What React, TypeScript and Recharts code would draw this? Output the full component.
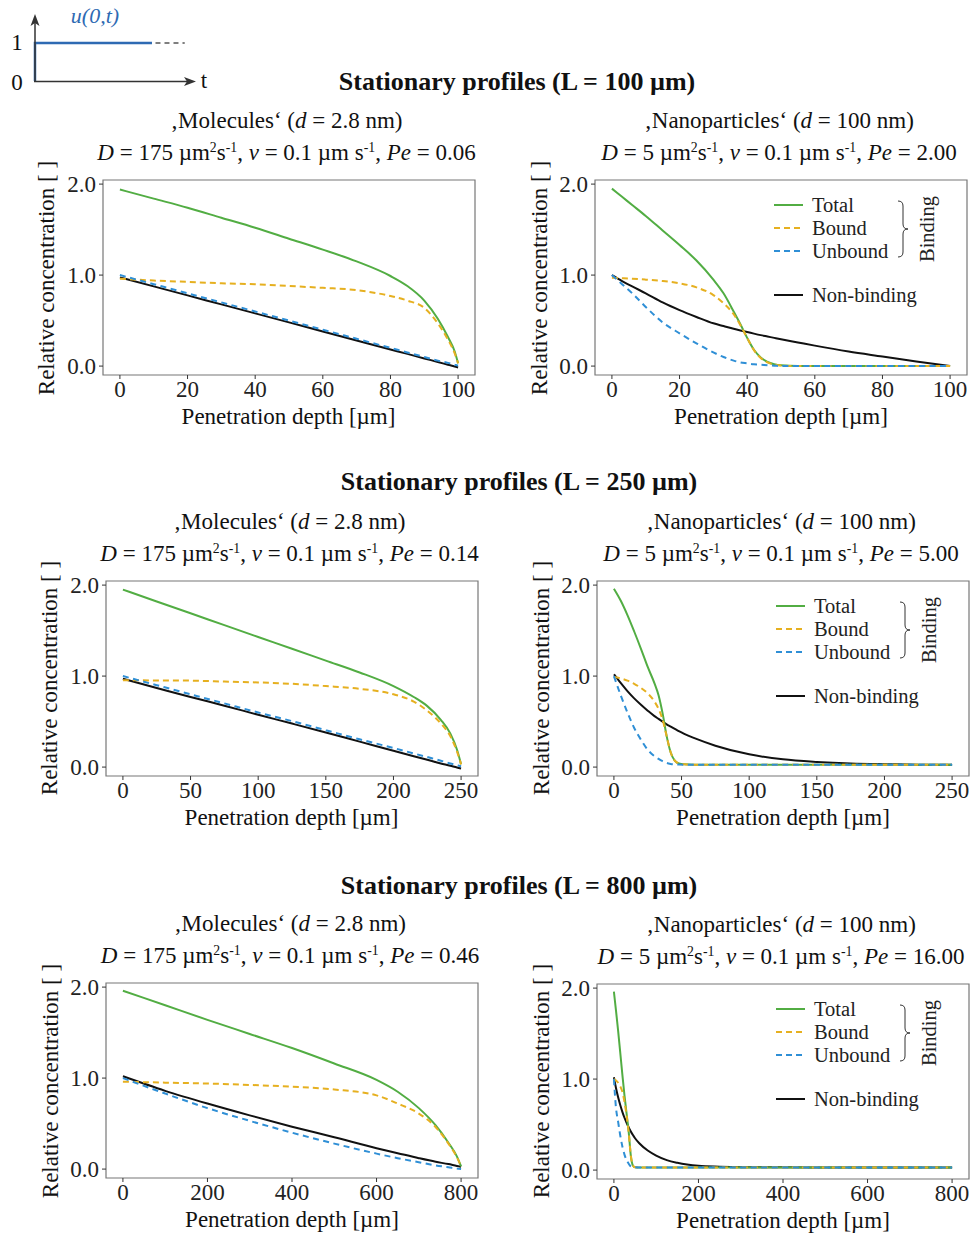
import { LineChart, Line, XAxis, YAxis, ReferenceArea, Legend } from 'recharts';

const FONT = '"Liberation Serif", "DejaVu Serif", serif';
const GREEN = '#52ad43';
const YELLOW = '#e6b020';
const BLUE = '#2f8fd6';
const BLACK = '#111111';
const STEP_BLUE = '#2e6ab3';

// L = 100 µm, molecules
const x100 = [0, 10, 20, 30, 40, 50, 60, 70, 80, 85, 90, 94, 97, 99, 100];
const total100Mol = [1.94, 1.84, 1.74, 1.63, 1.52, 1.4, 1.28, 1.15, 0.99, 0.88, 0.72, 0.52, 0.32, 0.16, 0.03];
const bound100Mol = [0.96, 0.94, 0.925, 0.91, 0.9, 0.88, 0.86, 0.835, 0.77, 0.72, 0.64, 0.47, 0.29, 0.14, 0.03];
const unbound100Mol = [1.0, 0.9, 0.8, 0.7, 0.6, 0.5, 0.4, 0.3, 0.2, 0.15, 0.1, 0.06, 0.035, 0.015, 0.005];
const nonbind100Mol = [0.975, 0.876, 0.777, 0.678, 0.579, 0.48, 0.381, 0.282, 0.183, 0.134, 0.084, 0.045, 0.015, -0.005, -0.015];

// L = 100 µm, nanoparticles
const x100Nano = [0, 3, 6, 10, 15, 20, 25, 30, 33, 36, 38, 40, 42, 44, 46, 48, 50, 55, 60, 70, 80, 90, 100];
const total100Nano = [1.95, 1.86, 1.77, 1.65, 1.49, 1.33, 1.16, 0.95, 0.8, 0.6, 0.46, 0.31, 0.18, 0.095, 0.045, 0.02, 0.008, 0, 0, 0, 0, 0, 0];
const bound100Nano = [0.97, 0.965, 0.96, 0.95, 0.935, 0.91, 0.865, 0.78, 0.69, 0.57, 0.45, 0.31, 0.175, 0.09, 0.04, 0.018, 0.007, 0, 0, 0, 0, 0, 0];
const unbound100Nano = [1.0, 0.9, 0.8, 0.65, 0.48, 0.36, 0.25, 0.15, 0.1, 0.06, 0.04, 0.03, 0.02, 0.015, 0.01, 0.005, 0, 0, 0, 0, 0, 0, 0];
const nonbind100Nano = [1.0, 0.935, 0.875, 0.8, 0.7, 0.615, 0.54, 0.47, 0.44, 0.41, 0.392, 0.375, 0.357, 0.34, 0.325, 0.31, 0.295, 0.26, 0.225, 0.16, 0.105, 0.05, 0.0];

// L = 250 µm, molecules
const x250 = [0, 25, 50, 75, 100, 125, 150, 175, 200, 215, 225, 235, 242, 247, 250];
const total250Mol = [1.95, 1.82, 1.69, 1.56, 1.43, 1.3, 1.17, 1.04, 0.89, 0.77, 0.67, 0.52, 0.37, 0.19, 0.03];
const bound250Mol = [0.955, 0.952, 0.95, 0.94, 0.93, 0.915, 0.89, 0.86, 0.8, 0.72, 0.62, 0.48, 0.34, 0.17, 0.03];
const unbound250Mol = [1.0, 0.9, 0.8, 0.7, 0.6, 0.505, 0.405, 0.305, 0.21, 0.15, 0.11, 0.07, 0.04, 0.02, 0.01];
const nonbind250Mol = [0.97, 0.87, 0.77, 0.675, 0.575, 0.478, 0.38, 0.28, 0.18, 0.12, 0.08, 0.04, 0.015, -0.005, -0.015];

// L = 250 µm, nanoparticles
const x250Nano = [0, 5, 10, 15, 20, 25, 30, 33, 36, 39, 42, 45, 48, 52, 60, 75, 100, 125, 150, 175, 200, 225, 250];
const total250Nano = [1.96, 1.83, 1.67, 1.49, 1.3, 1.1, 0.92, 0.79, 0.59, 0.34, 0.16, 0.07, 0.04, 0.03, 0.025, 0.025, 0.025, 0.025, 0.025, 0.025, 0.025, 0.025, 0.025];
const bound250Nano = [0.99, 0.975, 0.95, 0.915, 0.87, 0.81, 0.72, 0.64, 0.52, 0.34, 0.16, 0.07, 0.04, 0.03, 0.025, 0.025, 0.025, 0.025, 0.025, 0.025, 0.025, 0.025, 0.025];
const unbound250Nano = [1.0, 0.79, 0.6, 0.43, 0.3, 0.19, 0.12, 0.09, 0.065, 0.045, 0.035, 0.03, 0.027, 0.025, 0.025, 0.025, 0.025, 0.025, 0.025, 0.025, 0.025, 0.025, 0.025];
const nonbind250Nano = [1.02, 0.925, 0.835, 0.755, 0.685, 0.62, 0.56, 0.53, 0.5, 0.47, 0.445, 0.42, 0.395, 0.365, 0.315, 0.235, 0.14, 0.085, 0.057, 0.04, 0.032, 0.027, 0.025];

// L = 800 µm, molecules
const x800 = [0, 100, 200, 300, 400, 500, 600, 650, 700, 740, 770, 790, 800];
const total800Mol = [1.96, 1.8, 1.64, 1.485, 1.33, 1.16, 0.98, 0.85, 0.67, 0.48, 0.29, 0.14, 0.03];
const bound800Mol = [0.96, 0.95, 0.94, 0.925, 0.905, 0.875, 0.81, 0.72, 0.61, 0.46, 0.28, 0.13, 0.03];
const unbound800Mol = [1.0, 0.83, 0.67, 0.53, 0.4, 0.28, 0.17, 0.12, 0.075, 0.04, 0.02, 0.005, 0.0];
const nonbind800Mol = [1.02, 0.86, 0.72, 0.59, 0.466, 0.35, 0.23, 0.175, 0.12, 0.08, 0.055, 0.035, 0.026];

// L = 800 µm, nanoparticles
const x800Nano = [0, 5, 10, 15, 20, 25, 30, 35, 40, 45, 50, 60, 80, 100, 125, 150, 200, 250, 300, 400, 500, 600, 700, 800];
const total800Nano = [1.96, 1.75, 1.53, 1.29, 1.05, 0.82, 0.62, 0.42, 0.16, 0.05, 0.03, 0.028, 0.028, 0.028, 0.028, 0.028, 0.028, 0.028, 0.028, 0.028, 0.028, 0.028, 0.028, 0.028];
const bound800Nano = [1.0, 0.985, 0.96, 0.92, 0.86, 0.75, 0.6, 0.41, 0.16, 0.05, 0.03, 0.028, 0.028, 0.028, 0.028, 0.028, 0.028, 0.028, 0.028, 0.028, 0.028, 0.028, 0.028, 0.028];
const unbound800Nano = [1.0, 0.68, 0.53, 0.38, 0.26, 0.17, 0.11, 0.07, 0.04, 0.032, 0.03, 0.028, 0.028, 0.028, 0.028, 0.028, 0.028, 0.028, 0.028, 0.028, 0.028, 0.028, 0.028, 0.028];
const nonbind800Nano = [1.02, 0.9, 0.8, 0.715, 0.64, 0.575, 0.52, 0.47, 0.425, 0.385, 0.35, 0.295, 0.215, 0.16, 0.11, 0.08, 0.047, 0.037, 0.032, 0.03, 0.029, 0.028, 0.028, 0.028];

const ticks100 = [0, 20, 40, 60, 80, 100];
const ticks250 = [0, 50, 100, 150, 200, 250];
const ticks800 = [0, 200, 400, 600, 800];
const yTicks = [0, 1, 2];

// inset: boundary condition u(0,t)
const stepT = [0, 0, 1];
const stepU = [0, 1, 1];
const contT = [1.03, 1.28];
const contU = [1, 1];

const toRows = (x: number[], t: number[], b: number[], u: number[], n: number[]) =>
  x.map((v, i) => ({ x: v, total: t[i], bound: b[i], unbound: u[i], nonbinding: n[i] }));

const W = 372;
const H = 195;
const YW = 60;
const XH = 40;
const MT = 16;
const MR = 4;
const Y_DOMAIN: [number, number] = [-0.098, 2.045];

function Centered({ x, y, size, children, bold, rotate, color, italic }: any) {
  return (
    <div
      style={{
        position: 'absolute',
        left: x,
        top: y,
        transform: `translate(-50%, -50%)${rotate ? ' rotate(-90deg)' : ''}`,
        whiteSpace: 'nowrap',
        fontSize: size,
        lineHeight: 1,
        fontWeight: bold ? 700 : 400,
        fontStyle: italic ? 'italic' : 'normal',
        color: color || '#111',
      }}
    >
      {children}
    </div>
  );
}

const Sup = ({ children }: any) => (
  <span style={{ fontSize: '0.6em', position: 'relative', top: '-0.55em' }}>{children}</span>
);

function LegendBox() {
  const items = [
    { label: 'Total', color: GREEN, dash: undefined, y: 15 },
    { label: 'Bound', color: YELLOW, dash: '6 4', y: 38 },
    { label: 'Unbound', color: BLUE, dash: '6 4', y: 61 },
    { label: 'Non-binding', color: BLACK, dash: undefined, y: 105 },
  ];
  return (
    <svg width={200} height={120} style={{ fontFamily: FONT, overflow: 'visible' }}>
      {items.map((it) => (
        <g key={it.label}>
          <line x1={9} x2={38} y1={it.y} y2={it.y} stroke={it.color} strokeWidth={2} strokeDasharray={it.dash} />
          <text x={47} y={it.y} dominantBaseline="central" fontSize={20.5} fill="#222">
            {it.label}
          </text>
        </g>
      ))}
      <path
        d="M133 11 Q138 11 138 16 L138 34 Q138 39 143 39 Q138 39 138 44 L138 62 Q138 67 133 67"
        fill="none"
        stroke="#333"
        strokeWidth={1}
      />
      <text x={162} y={39} transform="rotate(-90 162 39)" textAnchor="middle" dominantBaseline="central" fontSize={20.5} fill="#222">
        Binding
      </text>
    </svg>
  );
}

function Panel({ left, top, L, ticks, data, legend, line1, line2 }: any) {
  const xDomain: [number, number] = [-0.05 * L, 1.05 * L];
  return (
    <>
      <Centered x={left + W / 2 - 2} y={top - 60} size={23}>{line1}</Centered>
      <Centered x={left + W / 2 - 2} y={top - 28} size={23}>{line2}</Centered>
      <Centered x={left - 56.5} y={top + H / 2} size={23} rotate>Relative concentration [ ]</Centered>
      <Centered x={left + W / 2} y={top + 236} size={23}>Penetration depth [µm]</Centered>
      <div style={{ position: 'absolute', left: left - YW, top: top - MT }}>
        <LineChart width={YW + W + MR} height={MT + H + XH} data={data} margin={{ top: MT, right: MR, bottom: 0, left: 0 }}>
          <XAxis
            dataKey="x"
            type="number"
            domain={xDomain}
            ticks={ticks}
            interval={0}
            allowDataOverflow
            height={XH}
            axisLine={false}
            tickSize={4}
            tickMargin={2}
            tickLine={{ stroke: '#333' }}
            tick={{ fill: '#222', fontSize: 23, fontFamily: FONT }}
          />
          <YAxis
            type="number"
            domain={Y_DOMAIN}
            ticks={yTicks}
            interval={0}
            allowDataOverflow
            width={YW}
            axisLine={false}
            tickSize={4}
            tickMargin={3}
            tickLine={{ stroke: '#333' }}
            tickFormatter={(v: number) => v.toFixed(1)}
            tick={{ fill: '#222', fontSize: 23, fontFamily: FONT }}
          />
          <ReferenceArea x1={xDomain[0]} x2={xDomain[1]} y1={Y_DOMAIN[0]} y2={Y_DOMAIN[1]} fill="none" fillOpacity={0} stroke="#777" strokeWidth={1.2} />
          <Line dataKey="nonbinding" type="monotone" stroke={BLACK} strokeWidth={2} dot={false} isAnimationActive={false} />
          <Line dataKey="total" type="monotone" stroke={GREEN} strokeWidth={2} dot={false} isAnimationActive={false} />
          <Line dataKey="bound" type="monotone" stroke={YELLOW} strokeWidth={2} strokeDasharray="6 4" dot={false} isAnimationActive={false} />
          <Line dataKey="unbound" type="monotone" stroke={BLUE} strokeWidth={2} strokeDasharray="6 4.5" dot={false} isAnimationActive={false} />
          {legend && (
            <Legend
              layout="horizontal"
              verticalAlign="middle"
              align="center"
              content={() => <LegendBox />}
              wrapperStyle={{ left: YW + 170, top: MT + 10, width: 200, height: 120 }}
            />
          )}
        </LineChart>
      </div>
    </>
  );
}

const molLine1 = (
  <span>‚Molecules‘ (<i>d</i> = 2.8 nm)</span>
);
const nanoLine1 = (
  <span>‚Nanoparticles‘ (<i>d</i> = 100 nm)</span>
);
const paramLine = (D: string, pe: string) => (
  <span>
    <i>D</i> = {D} µm<Sup>2</Sup>s<Sup>-1</Sup>, <i>v</i> = 0.1 µm s<Sup>-1</Sup>, <i>Pe</i> = {pe}
  </span>
);

function Inset() {
  return (
    <>
      <div style={{ position: 'absolute', left: 0, top: 0 }}>
        <LineChart width={210} height={95} margin={{ top: 0, right: 0, bottom: 0, left: 0 }}>
          <XAxis dataKey="t" type="number" domain={[-0.299, 1.496]} allowDataOverflow hide />
          <YAxis dataKey="u" type="number" domain={[-0.368, 2.132]} allowDataOverflow hide />
          <Line data={stepT.map((t, i) => ({ t, u: stepU[i] }))} dataKey="u" type="linear" stroke={STEP_BLUE} strokeWidth={2.5} dot={false} isAnimationActive={false} />
          <Line data={contT.map((t, i) => ({ t, u: contU[i] }))} dataKey="u" type="linear" stroke="#555" strokeWidth={1.5} strokeDasharray="5 4" dot={false} isAnimationActive={false} />
        </LineChart>
      </div>
      <svg width={210} height={95} style={{ position: 'absolute', left: 0, top: 0 }}>
        <line x1={35} y1={82} x2={35} y2={22} stroke="#333" strokeWidth={1.5} />
        <path d="M35 14 L39.5 26 L35 23 L30.5 26 Z" fill="#333" />
        <line x1={34} y1={81.5} x2={188} y2={81.5} stroke="#333" strokeWidth={1.5} />
        <path d="M196 81.5 L184 86 L187 81.5 L184 77 Z" fill="#333" />
      </svg>
      <Centered x={17} y={42} size={23}>1</Centered>
      <Centered x={17} y={82} size={23}>0</Centered>
      <Centered x={204} y={80} size={23}>t</Centered>
      <Centered x={95} y={16} size={22} italic color={STEP_BLUE}>u(0,t)</Centered>
    </>
  );
}

export default function App() {
  return (
    <div style={{ position: 'absolute', left: 0, top: 0, width: 972, height: 1235, background: '#fff', fontFamily: FONT, color: '#111', overflow: 'hidden' }}>
      <Inset />
      <Centered x={517} y={82} size={26} bold>Stationary profiles (L = 100 µm)</Centered>
      <Centered x={519} y={482} size={26} bold>Stationary profiles (L = 250 µm)</Centered>
      <Centered x={519} y={886} size={26} bold>Stationary profiles (L = 800 µm)</Centered>

      <Panel left={102.5} top={180} L={100} ticks={ticks100} data={toRows(x100, total100Mol, bound100Mol, unbound100Mol, nonbind100Mol)} line1={molLine1} line2={paramLine('175', '0.06')} />
      <Panel left={595} top={180} L={100} ticks={ticks100} data={toRows(x100Nano, total100Nano, bound100Nano, unbound100Nano, nonbind100Nano)} line1={nanoLine1} line2={paramLine('5', '2.00')} legend />

      <Panel left={105.5} top={580.5} L={250} ticks={ticks250} data={toRows(x250, total250Mol, bound250Mol, unbound250Mol, nonbind250Mol)} line1={molLine1} line2={paramLine('175', '0.14')} />
      <Panel left={597} top={580.5} L={250} ticks={ticks250} data={toRows(x250Nano, total250Nano, bound250Nano, unbound250Nano, nonbind250Nano)} line1={nanoLine1} line2={paramLine('5', '5.00')} legend />

      <Panel left={106} top={983} L={800} ticks={ticks800} data={toRows(x800, total800Mol, bound800Mol, unbound800Mol, nonbind800Mol)} line1={molLine1} line2={paramLine('175', '0.46')} />
      <Panel left={597} top={983.5} L={800} ticks={ticks800} data={toRows(x800Nano, total800Nano, bound800Nano, unbound800Nano, nonbind800Nano)} line1={nanoLine1} line2={paramLine('5', '16.00')} legend />
    </div>
  );
}
